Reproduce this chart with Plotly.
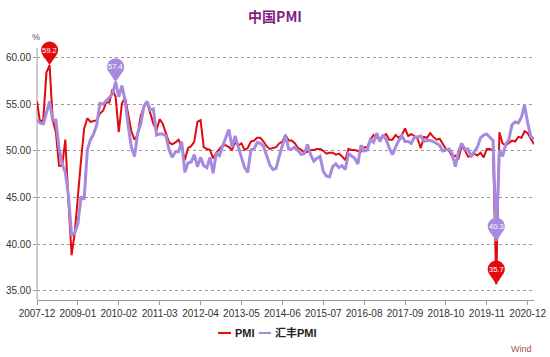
import numpy as np
import pandas as pd
import plotly.graph_objects as go

# ---------------- data ----------------
months = [d.strftime("%Y-%m") for d in pd.date_range("2007-12-01", "2021-02-01", freq="MS")]

pmi = [55.3,
       53.0, 53.4, 58.4, 59.2, 53.3, 52.0, 48.4, 48.4, 51.2, 44.6, 38.8, 41.2,
       45.3, 49.0, 52.4, 53.5, 53.1, 53.2, 53.3, 54.0, 54.3, 55.2, 55.2, 56.6,
       55.8, 52.0, 55.1, 55.7, 53.9, 52.1, 51.2, 51.7, 53.8, 54.7, 55.2, 53.9,
       52.9, 52.2, 53.4, 52.9, 52.0, 50.9, 50.7, 50.9, 51.2, 50.4, 49.0, 50.3,
       50.5, 51.0, 53.1, 53.3, 50.4, 50.2, 50.1, 49.2, 49.8, 50.2, 50.6, 50.6,
       50.4, 50.1, 50.9, 50.6, 50.8, 50.1, 50.3, 51.0, 51.1, 51.4, 51.4, 51.0,
       50.5, 50.2, 50.3, 50.4, 50.8, 51.0, 51.7, 51.1, 51.1, 50.8, 50.3, 50.1,
       49.8, 49.9, 50.1, 50.1, 50.2, 50.2, 50.0, 49.7, 49.8, 49.8, 49.6, 49.7,
       49.4, 49.0, 50.2, 50.1, 50.1, 50.0, 49.9, 50.4, 50.4, 51.2, 51.7, 51.4,
       51.3, 51.6, 51.8, 51.2, 51.2, 51.7, 51.4, 51.7, 52.4, 51.6, 51.8, 51.6,
       51.3, 50.3, 51.5, 51.4, 51.9, 51.5, 51.2, 51.3, 50.8, 50.2, 50.0, 49.4,
       49.5, 49.2, 50.5, 50.1, 49.4, 49.4, 49.7, 49.5, 49.8, 49.3, 50.2, 50.2,
       50.0, 35.7, 52.0, 50.8, 50.6, 50.9, 51.1, 51.0, 51.5, 51.4, 52.1, 51.9,
       51.3, 50.7]

hsbc_pmi = [53.3,
            53.0, 52.9, 54.0, 55.3, 53.3, 53.3, 50.3, 48.6, 47.7, 45.2, 40.9, 41.2,
            42.2, 45.1, 44.8, 50.1, 51.2, 51.8, 52.8, 55.1, 55.0, 55.4, 55.7, 56.1,
            57.4, 55.8, 57.0, 55.4, 52.7, 50.4, 49.4, 51.9, 52.9, 54.8, 55.3, 54.4,
            54.5, 51.7, 51.8, 51.8, 51.6, 50.1, 49.3, 49.9, 49.9, 51.0, 47.7, 48.7,
            48.8, 49.6, 48.3, 49.3, 48.4, 48.2, 49.3, 47.6, 49.8, 49.5, 50.5, 51.5,
            52.3, 50.4, 51.6, 50.4, 49.2, 48.2, 47.7, 50.1, 50.2, 50.9, 50.8, 50.5,
            49.5, 48.5, 48.0, 48.1, 49.4, 50.7, 51.7, 50.2, 50.2, 50.4, 50.0, 49.6,
            49.7, 50.7, 49.6, 48.9, 49.2, 49.4, 47.8, 47.3, 47.2, 48.3, 48.6, 48.2,
            48.4, 48.0, 49.7, 49.4, 49.2, 48.6, 50.6, 50.0, 50.1, 51.2, 50.9, 51.9,
            51.0, 51.7, 51.2, 50.3, 49.6, 50.4, 51.1, 51.6, 51.0, 51.0, 50.8, 51.5,
            51.5, 51.6, 51.0, 51.1, 51.1, 51.0, 50.8, 50.6, 50.0, 50.1, 50.2, 49.7,
            48.3, 49.9, 50.8, 50.2, 50.2, 49.4, 49.9, 50.4, 51.4, 51.7, 51.8, 51.5,
            51.1, 40.3, 50.1, 49.4, 50.7, 51.2, 52.8, 53.1, 53.0, 53.6, 54.9, 53.0,
            51.5, 51.3]

tick_labels = months[::13]
y_ticks = [35, 40, 45, 50, 55, 60]
y_axis_span = [34, 61]

series_names = ["PMI", "汇丰PMI"]
RED = "#E00A0F"
PURPLE = "#A68ADE"

# ---------------- layout geometry (pixels) ----------------
W, H = 550, 357
ML, MR, MT, MB = 37, 16, 38.6, 57
PW, PH = W - ML - MR, H - MT - MB


def px(xp):
    return (xp - ML) / PW


def py(yp):
    return (H - MB - yp) / PH


fig = go.Figure()
fig.add_trace(go.Scatter(x=months, y=pmi, mode="lines", name=series_names[0],
                         line=dict(color=RED, width=2), showlegend=False))
fig.add_trace(go.Scatter(x=months, y=hsbc_pmi, mode="lines", name=series_names[1],
                         line=dict(color=PURPLE, width=3), showlegend=False))

# pin (balloon) markers for max / min of each series
R, D = 8.5, 15.0
phi = np.arccos(R / D)
a0 = -np.pi / 2 + phi
a1 = 3 * np.pi / 2 - phi
angs = np.linspace(a0, a1, 40)
pts = ["M 0,0"] + [f"L {R*np.cos(a):.2f},{D + R*np.sin(a):.2f}" for a in angs] + ["Z"]
pin_path = " ".join(pts)

shapes = []
annotations = []
# y axis line (only over the nominal axis span)
shapes.append(dict(type="line", xref="paper", yref="y", x0=0, x1=0,
                   y0=y_axis_span[0], y1=y_axis_span[1], line=dict(color="#9A9A9A", width=1),
                   layer="below"))
for vals, col in [(pmi, RED), (hsbc_pmi, PURPLE)]:
    arr = np.array(vals)
    for idx in [int(arr.argmax()), int(arr.argmin())]:
        shapes.append(dict(type="path", xref="x", yref="y", xsizemode="pixel", ysizemode="pixel",
                           xanchor=idx, yanchor=vals[idx], path=pin_path,
                           fillcolor=col, line=dict(width=0), layer="above"))
        annotations.append(dict(x=months[idx], y=vals[idx], xref="x", yref="y", yshift=D,
                                text=f"{vals[idx]:.1f}", showarrow=False,
                                font=dict(size=7.5, color="white", family="Liberation Sans")))

# custom legend
leg_y = 333
shapes.append(dict(type="line", xref="paper", yref="paper", x0=px(218), x1=px(231),
                   y0=py(leg_y), y1=py(leg_y), line=dict(color=RED, width=2)))
shapes.append(dict(type="line", xref="paper", yref="paper", x0=px(259), x1=px(271),
                   y0=py(leg_y), y1=py(leg_y), line=dict(color=PURPLE, width=2)))
annotations.append(dict(x=px(233), y=py(leg_y), xref="paper", yref="paper", xanchor="left",
                        yanchor="middle", text=f"<b>{series_names[0]}</b>", showarrow=False,
                        font=dict(size=11, color="#222", family="Liberation Sans, Noto Sans CJK SC")))
annotations.append(dict(x=px(273), y=py(leg_y), xref="paper", yref="paper", xanchor="left",
                        yanchor="middle", text=f"<b>{series_names[1]}</b>", showarrow=False,
                        font=dict(size=11, color="#222", family="Liberation Sans, Noto Sans CJK SC")))
# unit label
annotations.append(dict(x=px(36), y=py(37), xref="paper", yref="paper", xanchor="center",
                        yanchor="middle", text="%", showarrow=False,
                        font=dict(size=9, color="#555", family="Liberation Sans")))
# source
annotations.append(dict(x=px(534), y=py(349), xref="paper", yref="paper", xanchor="right",
                        yanchor="middle", text="Wind", showarrow=False,
                        font=dict(size=9, color="#A4504E", family="Liberation Sans")))

fig.update_layout(
    width=W, height=H,
    margin=dict(l=ML, r=MR, t=MT, b=MB, autoexpand=False),
    paper_bgcolor="white", plot_bgcolor="white",
    title=dict(text="<b>中国PMI</b>", x=0.5, xref="container", xanchor="center",
               y=1 - 17 / H, yref="container", yanchor="middle",
               font=dict(size=14, color="#7E1F86", family="Noto Sans CJK SC")),
    showlegend=False,
    shapes=shapes,
    annotations=annotations,
    xaxis=dict(type="category", range=[0, len(months) - 1], automargin=False,
               tickmode="array", tickvals=tick_labels, ticktext=tick_labels,
               showgrid=False, zeroline=False, showline=True, linecolor="#9A9A9A", linewidth=1,
               ticks="outside", ticklen=4, tickcolor="#9A9A9A",
               tickfont=dict(size=10, color="#333", family="Liberation Sans"), tickangle=0),
    yaxis=dict(range=[34, 62], tickmode="array", tickvals=y_ticks, automargin=False,
               ticktext=[f"{v:.2f}" for v in y_ticks],
               showgrid=True, gridcolor="#999999", griddash="dot", gridwidth=1,
               zeroline=False, showline=False,
               ticks="outside", ticklen=3, tickcolor="#9A9A9A",
               tickfont=dict(size=10, color="#333", family="Liberation Sans")),
)

fig.write_html("out.html", config={"displayModeBar": False},
               post_script="document.body.style.margin='0';document.body.style.overflow='hidden';")
